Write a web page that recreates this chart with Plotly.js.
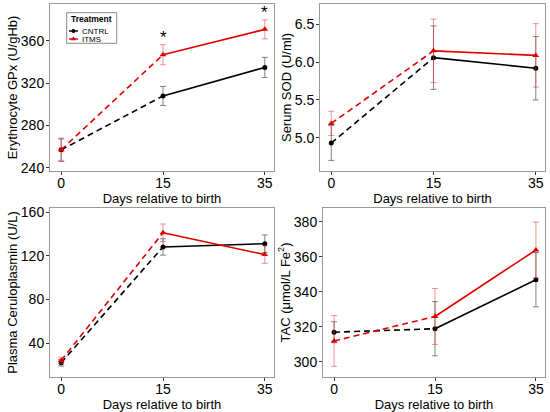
<!DOCTYPE html>
<html><head><meta charset="utf-8">
<script src="https://cdn.plot.ly/plotly-3.0.1.min.js"></script>
<style>html,body{margin:0;padding:0;background:#fff;}#c{width:550px;height:412px;}</style>
</head><body><div id="c"></div>
<script>
const days = ['0','15','35'];
// Erythrocyte GPx
const gpxCntrl = [257, 308, 335];
const gpxCntrlErr = [11, 9, 9.5];
const gpxItms = [257, 347, 371];
const gpxItmsErr = [10, 9.5, 9];
// Serum SOD
const sodCntrl = [4.93, 6.06, 5.92];
const sodCntrlErr = [0.23, 0.42, 0.42];
const sodItms = [5.19, 6.15, 6.09];
const sodItmsErr = [0.16, 0.42, 0.42];
// Plasma Ceruloplasmin
const cpCntrl = [22, 128, 131];
const cpCntrlErr = [3, 7.5, 8];
const cpItms = [24, 141, 121];
const cpItmsErr = [3, 8, 8];
// TAC
const tacCntrl = [317, 319, 347];
const tacCntrlErr = [6, 15.5, 15.5];
const tacItms = [312, 326, 364];
const tacItmsErr = [14.5, 16, 16];
// legend / groups
const groups = ['CNTRL', 'ITMS'];
const legendTitle = 'Treatment';
const gpxSignificant = [1, 2]; // day indices marked with *

// margins: l=50, r=5, t=4, b=35 -> plot area 495 x 373
const panels = [
  {c: gpxCntrl, ce: gpxCntrlErr, i: gpxItms, ie: gpxItmsErr, yt: 'Erythrocyte GPx (U/gHb)', range: [237, 395], ticks: [240, 280, 320, 360], tf: null, xd: [0, 0.4525], yd: [0.5523, 1]},
  {c: sodCntrl, ce: sodCntrlErr, i: sodItms, ie: sodItmsErr, yt: 'Serum SOD (U/ml)', range: [4.56, 6.77], ticks: [5.0, 5.5, 6.0, 6.5], tf: '.1f', xd: [0.5455, 1], yd: [0.5523, 1]},
  {c: cpCntrl, ce: cpCntrlErr, i: cpItms, ie: cpItmsErr, yt: 'Plasma Ceruloplasmin (U/L)', range: [8.9, 163.7], ticks: [40, 80, 120, 160], tf: null, xd: [0, 0.4525], yd: [0, 0.4531]},
  {c: tacCntrl, ce: tacCntrlErr, i: tacItms, ie: tacItmsErr, yt: 'TAC (μmol/L Fe<sup>2</sup>)', range: [291.4, 388], ticks: [300, 320, 340, 360, 380], tf: null, xd: [0.5515, 1], yd: [0, 0.4531]}
];

const BLACK = '#000000', RED = '#e00000';
const styles = [
  {col: BLACK, ecol: 'rgba(90,90,90,0.75)', sym: 'circle', sz: 5},
  {col: RED, ecol: 'rgba(230,60,60,0.55)', sym: 'triangle-up', sz: 6}
];
const traces = [];
const layout = {
  width: 550, height: 412, margin: {l: 50, r: 5, t: 4, b: 35},
  paper_bgcolor: '#fff', plot_bgcolor: 'rgba(0,0,0,0)', showlegend: false,
  font: {family: 'Liberation Sans, Arial, sans-serif', color: '#000'},
  annotations: [], shapes: []
};

panels.forEach((p, k) => {
  const n = k + 1;
  const xa = 'x' + (n === 1 ? '' : n), ya = 'y' + (n === 1 ? '' : n);
  const axX = 'xaxis' + (n === 1 ? '' : n), axY = 'yaxis' + (n === 1 ? '' : n);
  [[p.c, p.ce], [p.i, p.ie]].forEach((s, j) => {
    const [vals, errs] = s;
    const st = styles[j];
    traces.push({x: days.slice(0, 2), y: vals.slice(0, 2), xaxis: xa, yaxis: ya, mode: 'lines', line: {color: st.col, width: 1.6, dash: '6px,4px'}, hoverinfo: 'skip'});
    traces.push({x: days.slice(1), y: vals.slice(1), xaxis: xa, yaxis: ya, mode: 'lines', line: {color: st.col, width: 1.6}, hoverinfo: 'skip'});
    traces.push({x: days, y: vals, xaxis: xa, yaxis: ya, mode: 'markers', marker: {color: st.col, symbol: st.sym, size: st.sz},
      error_y: {type: 'data', array: errs, visible: true, color: st.ecol, thickness: 1, width: 3}, name: groups[j]});
  });
  layout[axX] = {domain: p.xd, anchor: ya, type: 'category', range: [-0.11, 2.09], showgrid: false, zeroline: false,
    showline: true, mirror: true, linecolor: '#999', linewidth: 1, ticks: 'outside', ticklen: 3, tickcolor: '#333',
    ticklabelstandoff: -4,
    tickfont: {size: 14}, title: {text: 'Days relative to birth', font: {size: 13}, standoff: 0}, fixedrange: true};
  layout[axY] = {domain: p.yd, anchor: xa, range: p.range, tickvals: p.ticks, showgrid: false, zeroline: false,
    showline: true, mirror: true, linecolor: '#999', linewidth: 1, ticks: 'outside', ticklen: 3, tickcolor: '#333',
    ticklabelstandoff: -1,
    tickfont: {size: 14}, title: {text: p.yt, font: {size: 13}, standoff: 0}, fixedrange: true};
  if (p.tf) layout[axY].tickformat = p.tf;
});

// significance markers on GPx panel
gpxSignificant.forEach(idx => {
  layout.annotations.push({x: idx, y: gpxItms[idx] + gpxItmsErr[idx], xref: 'x', yref: 'y', text: '*',
    showarrow: false, yanchor: 'bottom', yshift: -4, font: {size: 17, color: '#000'}});
});

// custom compact legend (own small axis for the key symbols)
const PW = 495, PH = 373, ML = 50, MT = 4;
const px2x = px => (px - ML) / PW, py2y = py => 1 - (py - MT) / PH;
layout.shapes.push({type: 'rect', xref: 'paper', yref: 'paper', x0: px2x(66.7), x1: px2x(116.7), y0: py2y(43.3), y1: py2y(12.7),
  line: {color: '#888', width: 1}, fillcolor: 'rgba(0,0,0,0)', layer: 'above'});
layout.annotations.push({xref: 'paper', yref: 'paper', x: px2x(69), y: py2y(18.5), xanchor: 'left', yanchor: 'middle',
  text: '<b>' + legendTitle + '</b>', showarrow: false, font: {size: 8.5, color: '#000'}});
layout.xaxis5 = {domain: [px2x(69), px2x(78)], range: [0, 1], visible: false, fixedrange: true, anchor: 'y5'};
layout.yaxis5 = {domain: [py2y(43), py2y(23)], range: [0, 1], visible: false, fixedrange: true, anchor: 'x5'};
const legRowY = [0.6, 0.2];
groups.forEach((g, j) => {
  const st = styles[j];
  traces.push({x: [0, 1], y: [legRowY[j], legRowY[j]], xaxis: 'x5', yaxis: 'y5', mode: 'lines', line: {color: st.col, width: 1.4}, hoverinfo: 'skip'});
  traces.push({x: [0.5], y: [legRowY[j]], xaxis: 'x5', yaxis: 'y5', mode: 'markers', marker: {color: st.col, symbol: st.sym, size: st.sz - 1}, hoverinfo: 'skip'});
  layout.annotations.push({xref: 'paper', yref: 'y5', x: px2x(79.5), y: legRowY[j], xanchor: 'left', yanchor: 'middle',
    text: g, showarrow: false, font: {size: 8, color: '#000'}});
});

Plotly.newPlot('c', traces, layout, {displayModeBar: false, staticPlot: true});
</script></body></html>
